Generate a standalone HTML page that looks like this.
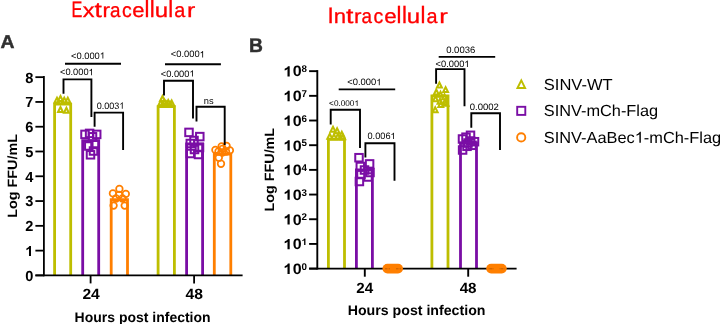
<!DOCTYPE html>
<html><head><meta charset="utf-8"><title>chart</title>
<style>
html,body{margin:0;padding:0;background:#fff;}
body{width:720px;height:324px;overflow:hidden;}
svg{display:block;will-change:transform;text-rendering:geometricPrecision;font-family:"Liberation Sans",sans-serif;}
</style></head><body>
<svg width="720" height="324" viewBox="0 0 720 324">
<rect width="720" height="324" fill="#fff"/>
<g fill="#ff0000" font-size="20.0" stroke="#ff0000" stroke-width="0.3">
<text transform="translate(71.57,16.70) scale(0.8118,1.1192)">E</text>
<text transform="translate(82.72,16.70) scale(1.1740,1.0038)">x</text>
<text transform="translate(94.60,16.63) scale(1.3281,1.0550)">t</text>
<text transform="translate(102.62,16.70) scale(1.1200,1.0037)">r</text>
<text transform="translate(110.11,16.70) scale(0.9436,1.0128)">a</text>
<text transform="translate(122.08,16.70) scale(0.9722,1.0128)">c</text>
<text transform="translate(132.23,16.70) scale(1.1011,1.0128)">e</text>
<text transform="translate(144.52,16.70) scale(1.1080,1.1793)">l</text>
<text transform="translate(149.82,16.70) scale(1.1080,1.1793)">l</text>
<text transform="translate(154.64,16.70) scale(1.2000,1.0037)">u</text>
<text transform="translate(168.32,16.70) scale(1.1080,1.1793)">l</text>
<text transform="translate(174.27,16.70) scale(0.9922,1.0128)">a</text>
<text transform="translate(187.06,16.70) scale(1.2400,1.0037)">r</text>
</g>
<g fill="#ff0000" font-size="20.0" stroke="#ff0000" stroke-width="0.3">
<text transform="translate(327.44,22.90) scale(1.1170,1.1192)">I</text>
<text transform="translate(333.64,22.90) scale(1.1059,1.0084)">n</text>
<text transform="translate(345.90,22.83) scale(1.3281,1.0550)">t</text>
<text transform="translate(354.02,22.90) scale(1.1200,1.0037)">r</text>
<text transform="translate(361.51,22.90) scale(0.9436,1.0128)">a</text>
<text transform="translate(373.48,22.90) scale(0.9722,1.0128)">c</text>
<text transform="translate(384.16,22.90) scale(1.1170,1.0128)">e</text>
<text transform="translate(396.52,22.90) scale(1.1080,1.1793)">l</text>
<text transform="translate(401.92,22.90) scale(1.1080,1.1793)">l</text>
<text transform="translate(406.84,22.90) scale(1.2000,1.0037)">u</text>
<text transform="translate(420.52,22.90) scale(1.1080,1.1793)">l</text>
<text transform="translate(426.57,22.90) scale(0.9922,1.0128)">a</text>
<text transform="translate(439.31,22.90) scale(1.2800,1.0037)">r</text>
</g>
<text x="0.4" y="48.3" font-size="18.5" font-weight="bold" fill="#303030" text-anchor="start" textLength="14.0" lengthAdjust="spacingAndGlyphs" stroke="#303030" stroke-width="0.45">A</text>
<text x="249.0" y="51.5" font-size="19.8" font-weight="bold" fill="#303030" text-anchor="start" textLength="13.9" lengthAdjust="spacingAndGlyphs" stroke="#303030" stroke-width="0.45">B</text>
<path d="M54.6 275.4V104.1H70.7V275.4" stroke="#bebe00" stroke-width="2.8" fill="none" stroke-linejoin="miter"/>
<path d="M82.7 275.4V140.6H98.7V275.4" stroke="#7a0ea5" stroke-width="2.8" fill="none" stroke-linejoin="miter"/>
<path d="M111.2 275.4V199.7H127.5V275.4" stroke="#ff7f00" stroke-width="2.8" fill="none" stroke-linejoin="miter"/>
<path d="M158.1 275.4V106.7H174.4V275.4" stroke="#bebe00" stroke-width="2.8" fill="none" stroke-linejoin="miter"/>
<path d="M186.6 275.4V144H202.6V275.4" stroke="#7a0ea5" stroke-width="2.8" fill="none" stroke-linejoin="miter"/>
<path d="M214.3 275.4V154H230.8V275.4" stroke="#ff7f00" stroke-width="2.8" fill="none" stroke-linejoin="miter"/>
<line x1="43.9" y1="76.1" x2="43.9" y2="276.29999999999995" stroke="#000" stroke-width="1.8" stroke-linecap="butt"/>
<line x1="35.4" y1="275.4" x2="242.6" y2="275.4" stroke="#000" stroke-width="1.8" stroke-linecap="butt"/>
<line x1="35.4" y1="275.4" x2="43.9" y2="275.4" stroke="#000" stroke-width="1.8" stroke-linecap="butt"/>
<text x="33.3" y="280.79999999999995" font-size="14.6" font-weight="bold" fill="#000" text-anchor="end" >0</text>
<line x1="35.4" y1="250.61999999999998" x2="43.9" y2="250.61999999999998" stroke="#000" stroke-width="1.8" stroke-linecap="butt"/>
<path transform="translate(25.25,256.02) scale(0.01460,0.01399)" d="M393 0H256V-516Q181 -446 79 -412V-536Q133 -554 196 -603Q259 -652 282 -718H393Z" fill="#000"/>
<line x1="35.4" y1="225.83999999999997" x2="43.9" y2="225.83999999999997" stroke="#000" stroke-width="1.8" stroke-linecap="butt"/>
<text x="33.3" y="231.23999999999998" font-size="14.6" font-weight="bold" fill="#000" text-anchor="end" >2</text>
<line x1="35.4" y1="201.05999999999997" x2="43.9" y2="201.05999999999997" stroke="#000" stroke-width="1.8" stroke-linecap="butt"/>
<text x="33.3" y="206.45999999999998" font-size="14.6" font-weight="bold" fill="#000" text-anchor="end" >3</text>
<line x1="35.4" y1="176.27999999999997" x2="43.9" y2="176.27999999999997" stroke="#000" stroke-width="1.8" stroke-linecap="butt"/>
<text x="33.3" y="181.67999999999998" font-size="14.6" font-weight="bold" fill="#000" text-anchor="end" >4</text>
<line x1="35.4" y1="151.49999999999997" x2="43.9" y2="151.49999999999997" stroke="#000" stroke-width="1.8" stroke-linecap="butt"/>
<text x="33.3" y="156.89999999999998" font-size="14.6" font-weight="bold" fill="#000" text-anchor="end" >5</text>
<line x1="35.4" y1="126.71999999999997" x2="43.9" y2="126.71999999999997" stroke="#000" stroke-width="1.8" stroke-linecap="butt"/>
<text x="33.3" y="132.11999999999998" font-size="14.6" font-weight="bold" fill="#000" text-anchor="end" >6</text>
<line x1="35.4" y1="101.93999999999997" x2="43.9" y2="101.93999999999997" stroke="#000" stroke-width="1.8" stroke-linecap="butt"/>
<text x="33.3" y="107.33999999999997" font-size="14.6" font-weight="bold" fill="#000" text-anchor="end" >7</text>
<line x1="35.4" y1="77.15999999999997" x2="43.9" y2="77.15999999999997" stroke="#000" stroke-width="1.8" stroke-linecap="butt"/>
<text x="33.3" y="82.55999999999997" font-size="14.6" font-weight="bold" fill="#000" text-anchor="end" >8</text>
<line x1="90.6" y1="275.4" x2="90.6" y2="283.4" stroke="#000" stroke-width="1.8" stroke-linecap="butt"/>
<line x1="194.1" y1="275.4" x2="194.1" y2="283.4" stroke="#000" stroke-width="1.8" stroke-linecap="butt"/>
<text x="91.1" y="299.4" font-size="14.8" font-weight="bold" fill="#000" text-anchor="middle" textLength="17.4" lengthAdjust="spacingAndGlyphs" >24</text>
<text x="194.3" y="299.4" font-size="14.8" font-weight="bold" fill="#000" text-anchor="middle" textLength="17.4" lengthAdjust="spacingAndGlyphs" >48</text>
<text x="74.6" y="321.5" font-size="14" font-weight="bold" fill="#000" text-anchor="start" textLength="136" lengthAdjust="spacingAndGlyphs" >Hours post infection</text>
<text transform="translate(17.4,217.7) rotate(-90)" font-size="13.5" font-weight="bold" textLength="83.6" lengthAdjust="spacingAndGlyphs">Log FFU/mL</text>
<path d="M54.55 102.54L57.00 97.64L59.45 102.54Z" stroke="#bebe00" stroke-width="2.0" fill="none" stroke-linejoin="miter"/>
<path d="M58.05 100.94L60.50 96.04L62.95 100.94Z" stroke="#bebe00" stroke-width="2.0" fill="none" stroke-linejoin="miter"/>
<path d="M61.80 102.54L64.25 97.64L66.70 102.54Z" stroke="#bebe00" stroke-width="2.0" fill="none" stroke-linejoin="miter"/>
<path d="M65.35 102.54L67.80 97.64L70.25 102.54Z" stroke="#bebe00" stroke-width="2.0" fill="none" stroke-linejoin="miter"/>
<path d="M58.05 111.94L60.50 107.04L62.95 111.94Z" stroke="#bebe00" stroke-width="2.0" fill="none" stroke-linejoin="miter"/>
<path d="M63.95 112.74L66.40 107.84L68.85 112.74Z" stroke="#bebe00" stroke-width="2.0" fill="none" stroke-linejoin="miter"/>
<rect x="81.25" y="130.65" width="7.5" height="7.5" stroke="#7a0ea5" stroke-width="2.0" fill="none"/>
<rect x="85.85" y="129.65" width="7.5" height="7.5" stroke="#7a0ea5" stroke-width="2.0" fill="none"/>
<rect x="92.95" y="130.65" width="7.5" height="7.5" stroke="#7a0ea5" stroke-width="2.0" fill="none"/>
<rect x="88.75" y="133.05" width="7.5" height="7.5" stroke="#7a0ea5" stroke-width="2.0" fill="none"/>
<rect x="85.05" y="142.25" width="7.5" height="7.5" stroke="#7a0ea5" stroke-width="2.0" fill="none"/>
<rect x="91.25" y="140.75" width="7.5" height="7.5" stroke="#7a0ea5" stroke-width="2.0" fill="none"/>
<rect x="86.75" y="151.05" width="7.5" height="7.5" stroke="#7a0ea5" stroke-width="2.0" fill="none"/>
<rect x="89.75" y="147.25" width="7.5" height="7.5" stroke="#7a0ea5" stroke-width="2.0" fill="none"/>
<circle cx="119.40" cy="188.90" r="3.3" stroke="#ff7f00" stroke-width="1.7" fill="none"/>
<circle cx="112.90" cy="193.40" r="3.3" stroke="#ff7f00" stroke-width="1.7" fill="none"/>
<circle cx="125.80" cy="193.90" r="3.3" stroke="#ff7f00" stroke-width="1.7" fill="none"/>
<circle cx="119.10" cy="195.00" r="3.3" stroke="#ff7f00" stroke-width="1.7" fill="none"/>
<circle cx="113.60" cy="205.60" r="3.3" stroke="#ff7f00" stroke-width="1.7" fill="none"/>
<circle cx="124.70" cy="205.60" r="3.3" stroke="#ff7f00" stroke-width="1.7" fill="none"/>
<circle cx="116.00" cy="198.50" r="3.3" stroke="#ff7f00" stroke-width="1.7" fill="none"/>
<circle cx="122.50" cy="198.50" r="3.3" stroke="#ff7f00" stroke-width="1.7" fill="none"/>
<path d="M160.05 100.94L162.50 96.04L164.95 100.94Z" stroke="#bebe00" stroke-width="2.0" fill="none" stroke-linejoin="miter"/>
<path d="M158.45 105.14L160.90 100.24L163.35 105.14Z" stroke="#bebe00" stroke-width="2.0" fill="none" stroke-linejoin="miter"/>
<path d="M162.15 104.64L164.60 99.74L167.05 104.64Z" stroke="#bebe00" stroke-width="2.0" fill="none" stroke-linejoin="miter"/>
<path d="M165.75 104.94L168.20 100.04L170.65 104.94Z" stroke="#bebe00" stroke-width="2.0" fill="none" stroke-linejoin="miter"/>
<path d="M169.25 105.44L171.70 100.54L174.15 105.44Z" stroke="#bebe00" stroke-width="2.0" fill="none" stroke-linejoin="miter"/>
<path d="M164.05 106.64L166.50 101.74L168.95 106.64Z" stroke="#bebe00" stroke-width="2.0" fill="none" stroke-linejoin="miter"/>
<path d="M160.55 106.14L163.00 101.24L165.45 106.14Z" stroke="#bebe00" stroke-width="2.0" fill="none" stroke-linejoin="miter"/>
<path d="M167.55 106.54L170.00 101.64L172.45 106.54Z" stroke="#bebe00" stroke-width="2.0" fill="none" stroke-linejoin="miter"/>
<rect x="185.25" y="128.65" width="7.5" height="7.5" stroke="#7a0ea5" stroke-width="2.0" fill="none"/>
<rect x="196.05" y="132.85" width="7.5" height="7.5" stroke="#7a0ea5" stroke-width="2.0" fill="none"/>
<rect x="186.55" y="139.75" width="7.5" height="7.5" stroke="#7a0ea5" stroke-width="2.0" fill="none"/>
<rect x="195.75" y="143.75" width="7.5" height="7.5" stroke="#7a0ea5" stroke-width="2.0" fill="none"/>
<rect x="186.55" y="149.75" width="7.5" height="7.5" stroke="#7a0ea5" stroke-width="2.0" fill="none"/>
<rect x="194.75" y="150.75" width="7.5" height="7.5" stroke="#7a0ea5" stroke-width="2.0" fill="none"/>
<rect x="190.25" y="136.75" width="7.5" height="7.5" stroke="#7a0ea5" stroke-width="2.0" fill="none"/>
<rect x="190.75" y="145.75" width="7.5" height="7.5" stroke="#7a0ea5" stroke-width="2.0" fill="none"/>
<circle cx="221.60" cy="146.50" r="3.3" stroke="#ff7f00" stroke-width="1.7" fill="none"/>
<circle cx="226.60" cy="146.00" r="3.3" stroke="#ff7f00" stroke-width="1.7" fill="none"/>
<circle cx="215.40" cy="149.90" r="3.3" stroke="#ff7f00" stroke-width="1.7" fill="none"/>
<circle cx="229.90" cy="150.40" r="3.3" stroke="#ff7f00" stroke-width="1.7" fill="none"/>
<circle cx="222.70" cy="148.80" r="3.3" stroke="#ff7f00" stroke-width="1.7" fill="none"/>
<circle cx="221.00" cy="163.80" r="3.3" stroke="#ff7f00" stroke-width="1.7" fill="none"/>
<circle cx="218.80" cy="157.70" r="3.3" stroke="#ff7f00" stroke-width="1.7" fill="none"/>
<circle cx="218.50" cy="151.50" r="3.3" stroke="#ff7f00" stroke-width="1.7" fill="none"/>
<circle cx="226.00" cy="151.50" r="3.3" stroke="#ff7f00" stroke-width="1.7" fill="none"/>
<circle cx="222.30" cy="152.50" r="3.3" stroke="#ff7f00" stroke-width="1.7" fill="none"/>
<line x1="65" y1="63.7" x2="121" y2="63.7" stroke="#000" stroke-width="1.9" stroke-linecap="butt"/>
<text x="71.0" y="58.6" font-size="9.3" font-weight="normal" fill="#000" text-anchor="start" textLength="28.81" lengthAdjust="spacingAndGlyphs" >&lt;0.000</text>
<path transform="translate(99.81,58.60) scale(0.00933,0.00895)" d="M373 0H285V-560Q253 -530 202 -500Q151 -470 110 -455V-540Q183 -574 238 -623Q293 -672 316 -719H373Z" fill="#000"/>
<text x="60.0" y="75.2" font-size="9.3" font-weight="normal" fill="#000" text-anchor="start" textLength="28.56" lengthAdjust="spacingAndGlyphs" >&lt;0.000</text>
<path transform="translate(88.56,75.20) scale(0.00925,0.00895)" d="M373 0H285V-560Q253 -530 202 -500Q151 -470 110 -455V-540Q183 -574 238 -623Q293 -672 316 -719H373Z" fill="#000"/>
<path d="M63.5 93.7V79.4H91.4V116.9" stroke="#000" stroke-width="1.9" fill="none" stroke-linejoin="miter"/>
<text x="96.7" y="108.8" font-size="9.3" font-weight="normal" fill="#000" text-anchor="start" textLength="22.58" lengthAdjust="spacingAndGlyphs" >0.003</text>
<path transform="translate(119.28,108.80) scale(0.00902,0.00895)" d="M373 0H285V-560Q253 -530 202 -500Q151 -470 110 -455V-540Q183 -574 238 -623Q293 -672 316 -719H373Z" fill="#000"/>
<path d="M94.6 126.7V112.6H123.1V150" stroke="#000" stroke-width="1.9" fill="none" stroke-linejoin="miter"/>
<line x1="165" y1="64.3" x2="220.9" y2="64.3" stroke="#000" stroke-width="1.9" stroke-linecap="butt"/>
<text x="170.8" y="57.4" font-size="9.3" font-weight="normal" fill="#000" text-anchor="start" textLength="28.81" lengthAdjust="spacingAndGlyphs" >&lt;0.000</text>
<path transform="translate(199.61,57.40) scale(0.00933,0.00895)" d="M373 0H285V-560Q253 -530 202 -500Q151 -470 110 -455V-540Q183 -574 238 -623Q293 -672 316 -719H373Z" fill="#000"/>
<text x="160.8" y="76.6" font-size="9.3" font-weight="normal" fill="#000" text-anchor="start" textLength="28.64" lengthAdjust="spacingAndGlyphs" >&lt;0.000</text>
<path transform="translate(189.44,76.60) scale(0.00928,0.00895)" d="M373 0H285V-560Q253 -530 202 -500Q151 -470 110 -455V-540Q183 -574 238 -623Q293 -672 316 -719H373Z" fill="#000"/>
<path d="M164 95.6V80.7H193V118.6" stroke="#000" stroke-width="1.9" fill="none" stroke-linejoin="miter"/>
<text x="203.75" y="103.75" font-size="9.3" font-weight="normal" fill="#000" text-anchor="start" >ns</text>
<path d="M196.5 121.5V106.8H224.7V144.9" stroke="#000" stroke-width="1.9" fill="none" stroke-linejoin="miter"/>
<path d="M328.4 268.6V139.4H344.5V268.6" stroke="#bebe00" stroke-width="2.8" fill="none" stroke-linejoin="miter"/>
<path d="M356.4 268.6V170H372.4V268.6" stroke="#7a0ea5" stroke-width="2.8" fill="none" stroke-linejoin="miter"/>
<path d="M431.9 268.6V95.8H448.0V268.6" stroke="#bebe00" stroke-width="2.8" fill="none" stroke-linejoin="miter"/>
<path d="M460.5 268.6V143H476.5V268.6" stroke="#7a0ea5" stroke-width="2.8" fill="none" stroke-linejoin="miter"/>
<line x1="317.3" y1="70.1" x2="317.3" y2="269.5" stroke="#000" stroke-width="1.9" stroke-linecap="butt"/>
<line x1="309.1" y1="268.6" x2="516.6" y2="268.6" stroke="#000" stroke-width="1.9" stroke-linecap="butt"/>
<line x1="309.1" y1="268.6" x2="317.3" y2="268.6" stroke="#000" stroke-width="1.9" stroke-linecap="butt"/>
<path transform="translate(283.40,273.90) scale(0.01600,0.01437)" d="M393 0H256V-516Q181 -446 79 -412V-536Q133 -554 196 -603Q259 -652 282 -718H393Z" fill="#000"/>
<text x="292.8" y="273.90000000000003" font-size="15.0" font-weight="bold" fill="#000" text-anchor="start" textLength="8.9" lengthAdjust="spacingAndGlyphs" >0</text>
<text x="301.6" y="269.8" font-size="9.8" font-weight="bold" fill="#000" text-anchor="start" >0</text>
<line x1="309.1" y1="243.92000000000002" x2="317.3" y2="243.92000000000002" stroke="#000" stroke-width="1.9" stroke-linecap="butt"/>
<path transform="translate(283.40,249.22) scale(0.01600,0.01437)" d="M393 0H256V-516Q181 -446 79 -412V-536Q133 -554 196 -603Q259 -652 282 -718H393Z" fill="#000"/>
<text x="292.8" y="249.22000000000003" font-size="15.0" font-weight="bold" fill="#000" text-anchor="start" textLength="8.9" lengthAdjust="spacingAndGlyphs" >0</text>
<path transform="translate(301.60,245.12) scale(0.00980,0.00939)" d="M393 0H256V-516Q181 -446 79 -412V-536Q133 -554 196 -603Q259 -652 282 -718H393Z" fill="#000"/>
<line x1="309.1" y1="219.24" x2="317.3" y2="219.24" stroke="#000" stroke-width="1.9" stroke-linecap="butt"/>
<path transform="translate(283.40,224.54) scale(0.01600,0.01437)" d="M393 0H256V-516Q181 -446 79 -412V-536Q133 -554 196 -603Q259 -652 282 -718H393Z" fill="#000"/>
<text x="292.8" y="224.54000000000002" font-size="15.0" font-weight="bold" fill="#000" text-anchor="start" textLength="8.9" lengthAdjust="spacingAndGlyphs" >0</text>
<text x="301.6" y="220.44" font-size="9.8" font-weight="bold" fill="#000" text-anchor="start" >2</text>
<line x1="309.1" y1="194.56000000000003" x2="317.3" y2="194.56000000000003" stroke="#000" stroke-width="1.9" stroke-linecap="butt"/>
<path transform="translate(283.40,199.86) scale(0.01600,0.01437)" d="M393 0H256V-516Q181 -446 79 -412V-536Q133 -554 196 -603Q259 -652 282 -718H393Z" fill="#000"/>
<text x="292.8" y="199.86000000000004" font-size="15.0" font-weight="bold" fill="#000" text-anchor="start" textLength="8.9" lengthAdjust="spacingAndGlyphs" >0</text>
<text x="301.6" y="195.76000000000002" font-size="9.8" font-weight="bold" fill="#000" text-anchor="start" >3</text>
<line x1="309.1" y1="169.88000000000002" x2="317.3" y2="169.88000000000002" stroke="#000" stroke-width="1.9" stroke-linecap="butt"/>
<path transform="translate(283.40,175.18) scale(0.01600,0.01437)" d="M393 0H256V-516Q181 -446 79 -412V-536Q133 -554 196 -603Q259 -652 282 -718H393Z" fill="#000"/>
<text x="292.8" y="175.18000000000004" font-size="15.0" font-weight="bold" fill="#000" text-anchor="start" textLength="8.9" lengthAdjust="spacingAndGlyphs" >0</text>
<text x="301.6" y="171.08" font-size="9.8" font-weight="bold" fill="#000" text-anchor="start" >4</text>
<line x1="309.1" y1="145.20000000000002" x2="317.3" y2="145.20000000000002" stroke="#000" stroke-width="1.9" stroke-linecap="butt"/>
<path transform="translate(283.40,150.50) scale(0.01600,0.01437)" d="M393 0H256V-516Q181 -446 79 -412V-536Q133 -554 196 -603Q259 -652 282 -718H393Z" fill="#000"/>
<text x="292.8" y="150.50000000000003" font-size="15.0" font-weight="bold" fill="#000" text-anchor="start" textLength="8.9" lengthAdjust="spacingAndGlyphs" >0</text>
<text x="301.6" y="146.4" font-size="9.8" font-weight="bold" fill="#000" text-anchor="start" >5</text>
<line x1="309.1" y1="120.52000000000004" x2="317.3" y2="120.52000000000004" stroke="#000" stroke-width="1.9" stroke-linecap="butt"/>
<path transform="translate(283.40,125.82) scale(0.01600,0.01437)" d="M393 0H256V-516Q181 -446 79 -412V-536Q133 -554 196 -603Q259 -652 282 -718H393Z" fill="#000"/>
<text x="292.8" y="125.82000000000004" font-size="15.0" font-weight="bold" fill="#000" text-anchor="start" textLength="8.9" lengthAdjust="spacingAndGlyphs" >0</text>
<text x="301.6" y="121.72000000000004" font-size="9.8" font-weight="bold" fill="#000" text-anchor="start" >6</text>
<line x1="309.1" y1="95.84000000000003" x2="317.3" y2="95.84000000000003" stroke="#000" stroke-width="1.9" stroke-linecap="butt"/>
<path transform="translate(283.40,101.14) scale(0.01600,0.01437)" d="M393 0H256V-516Q181 -446 79 -412V-536Q133 -554 196 -603Q259 -652 282 -718H393Z" fill="#000"/>
<text x="292.8" y="101.14000000000003" font-size="15.0" font-weight="bold" fill="#000" text-anchor="start" textLength="8.9" lengthAdjust="spacingAndGlyphs" >0</text>
<text x="301.6" y="97.04000000000003" font-size="9.8" font-weight="bold" fill="#000" text-anchor="start" >7</text>
<line x1="309.1" y1="71.16000000000003" x2="317.3" y2="71.16000000000003" stroke="#000" stroke-width="1.9" stroke-linecap="butt"/>
<path transform="translate(283.40,76.46) scale(0.01600,0.01437)" d="M393 0H256V-516Q181 -446 79 -412V-536Q133 -554 196 -603Q259 -652 282 -718H393Z" fill="#000"/>
<text x="292.8" y="76.46000000000002" font-size="15.0" font-weight="bold" fill="#000" text-anchor="start" textLength="8.9" lengthAdjust="spacingAndGlyphs" >0</text>
<text x="301.6" y="72.36000000000003" font-size="9.8" font-weight="bold" fill="#000" text-anchor="start" >8</text>
<line x1="364.8" y1="268.6" x2="364.8" y2="276.7" stroke="#000" stroke-width="1.9" stroke-linecap="butt"/>
<line x1="468.2" y1="268.6" x2="468.2" y2="276.7" stroke="#000" stroke-width="1.9" stroke-linecap="butt"/>
<text x="364.7" y="293.1" font-size="14.8" font-weight="bold" fill="#000" text-anchor="middle" textLength="16.9" lengthAdjust="spacingAndGlyphs" >24</text>
<text x="468.1" y="293.1" font-size="14.8" font-weight="bold" fill="#000" text-anchor="middle" textLength="16.9" lengthAdjust="spacingAndGlyphs" >48</text>
<text x="347.7" y="314.7" font-size="14" font-weight="bold" fill="#000" text-anchor="start" textLength="137.8" lengthAdjust="spacingAndGlyphs" >Hours post infection</text>
<text transform="translate(273.6,211.4) rotate(-90)" font-size="13.5" font-weight="bold" textLength="83.5" lengthAdjust="spacingAndGlyphs">Log FFU/mL</text>
<rect x="382.5" y="263.70000000000005" width="20.5" height="9.8" rx="4.9" fill="#ff7f00"/>
<rect x="385.1" y="268.0" width="0.55" height="1.4" fill="#a04c00" opacity="0.8"/>
<rect x="386.4" y="268.0" width="0.55" height="1.4" fill="#a04c00" opacity="0.8"/>
<rect x="387.7" y="268.0" width="0.55" height="1.4" fill="#a04c00" opacity="0.8"/>
<rect x="389.0" y="268.0" width="0.55" height="1.4" fill="#a04c00" opacity="0.8"/>
<rect x="396.1" y="268.0" width="0.55" height="1.4" fill="#a04c00" opacity="0.8"/>
<rect x="397.4" y="268.0" width="0.55" height="1.4" fill="#a04c00" opacity="0.8"/>
<rect x="398.7" y="268.0" width="0.55" height="1.4" fill="#a04c00" opacity="0.8"/>
<rect x="400.0" y="268.0" width="0.55" height="1.4" fill="#a04c00" opacity="0.8"/>
<rect x="486.2" y="263.70000000000005" width="20.5" height="9.8" rx="4.9" fill="#ff7f00"/>
<rect x="488.8" y="268.0" width="0.55" height="1.4" fill="#a04c00" opacity="0.8"/>
<rect x="490.09999999999997" y="268.0" width="0.55" height="1.4" fill="#a04c00" opacity="0.8"/>
<rect x="491.4" y="268.0" width="0.55" height="1.4" fill="#a04c00" opacity="0.8"/>
<rect x="492.7" y="268.0" width="0.55" height="1.4" fill="#a04c00" opacity="0.8"/>
<rect x="499.8" y="268.0" width="0.55" height="1.4" fill="#a04c00" opacity="0.8"/>
<rect x="501.09999999999997" y="268.0" width="0.55" height="1.4" fill="#a04c00" opacity="0.8"/>
<rect x="502.4" y="268.0" width="0.55" height="1.4" fill="#a04c00" opacity="0.8"/>
<rect x="503.7" y="268.0" width="0.55" height="1.4" fill="#a04c00" opacity="0.8"/>
<path d="M330.55 131.64L333.00 126.74L335.45 131.64Z" stroke="#bebe00" stroke-width="2.0" fill="none" stroke-linejoin="miter"/>
<path d="M334.65 133.14L337.10 128.24L339.55 133.14Z" stroke="#bebe00" stroke-width="2.0" fill="none" stroke-linejoin="miter"/>
<path d="M339.35 136.64L341.80 131.74L344.25 136.64Z" stroke="#bebe00" stroke-width="2.0" fill="none" stroke-linejoin="miter"/>
<path d="M327.35 138.74L329.80 133.84L332.25 138.74Z" stroke="#bebe00" stroke-width="2.0" fill="none" stroke-linejoin="miter"/>
<path d="M331.55 139.14L334.00 134.24L336.45 139.14Z" stroke="#bebe00" stroke-width="2.0" fill="none" stroke-linejoin="miter"/>
<path d="M335.55 138.74L338.00 133.84L340.45 138.74Z" stroke="#bebe00" stroke-width="2.0" fill="none" stroke-linejoin="miter"/>
<path d="M340.25 139.14L342.70 134.24L345.15 139.14Z" stroke="#bebe00" stroke-width="2.0" fill="none" stroke-linejoin="miter"/>
<rect x="355.25" y="153.95" width="7.5" height="7.5" stroke="#7a0ea5" stroke-width="2.0" fill="none"/>
<rect x="365.85" y="160.15" width="7.5" height="7.5" stroke="#7a0ea5" stroke-width="2.0" fill="none"/>
<rect x="356.55" y="162.75" width="7.5" height="7.5" stroke="#7a0ea5" stroke-width="2.0" fill="none"/>
<rect x="366.25" y="168.75" width="7.5" height="7.5" stroke="#7a0ea5" stroke-width="2.0" fill="none"/>
<rect x="360.75" y="166.25" width="7.5" height="7.5" stroke="#7a0ea5" stroke-width="2.0" fill="none"/>
<rect x="357.25" y="170.75" width="7.5" height="7.5" stroke="#7a0ea5" stroke-width="2.0" fill="none"/>
<rect x="364.25" y="173.25" width="7.5" height="7.5" stroke="#7a0ea5" stroke-width="2.0" fill="none"/>
<rect x="355.65" y="177.75" width="7.5" height="7.5" stroke="#7a0ea5" stroke-width="2.0" fill="none"/>
<path d="M436.95 87.44L439.40 82.54L441.85 87.44Z" stroke="#bebe00" stroke-width="2.0" fill="none" stroke-linejoin="miter"/>
<path d="M443.15 92.04L445.60 87.14L448.05 92.04Z" stroke="#bebe00" stroke-width="2.0" fill="none" stroke-linejoin="miter"/>
<path d="M433.85 94.44L436.30 89.54L438.75 94.44Z" stroke="#bebe00" stroke-width="2.0" fill="none" stroke-linejoin="miter"/>
<path d="M438.05 96.64L440.50 91.74L442.95 96.64Z" stroke="#bebe00" stroke-width="2.0" fill="none" stroke-linejoin="miter"/>
<path d="M442.05 99.14L444.50 94.24L446.95 99.14Z" stroke="#bebe00" stroke-width="2.0" fill="none" stroke-linejoin="miter"/>
<path d="M433.05 101.14L435.50 96.24L437.95 101.14Z" stroke="#bebe00" stroke-width="2.0" fill="none" stroke-linejoin="miter"/>
<path d="M437.55 103.64L440.00 98.74L442.45 103.64Z" stroke="#bebe00" stroke-width="2.0" fill="none" stroke-linejoin="miter"/>
<path d="M442.55 104.14L445.00 99.24L447.45 104.14Z" stroke="#bebe00" stroke-width="2.0" fill="none" stroke-linejoin="miter"/>
<path d="M432.75 112.14L435.20 107.24L437.65 112.14Z" stroke="#bebe00" stroke-width="2.0" fill="none" stroke-linejoin="miter"/>
<path d="M443.55 105.64L446.00 100.74L448.45 105.64Z" stroke="#bebe00" stroke-width="2.0" fill="none" stroke-linejoin="miter"/>
<path d="M438.35 106.94L440.80 102.04L443.25 106.94Z" stroke="#bebe00" stroke-width="2.0" fill="none" stroke-linejoin="miter"/>
<rect x="466.75" y="131.55" width="7.5" height="7.5" stroke="#7a0ea5" stroke-width="2.0" fill="none"/>
<rect x="462.25" y="133.45" width="7.5" height="7.5" stroke="#7a0ea5" stroke-width="2.0" fill="none"/>
<rect x="458.75" y="135.25" width="7.5" height="7.5" stroke="#7a0ea5" stroke-width="2.0" fill="none"/>
<rect x="470.75" y="137.95" width="7.5" height="7.5" stroke="#7a0ea5" stroke-width="2.0" fill="none"/>
<rect x="464.25" y="139.25" width="7.5" height="7.5" stroke="#7a0ea5" stroke-width="2.0" fill="none"/>
<rect x="458.85" y="146.25" width="7.5" height="7.5" stroke="#7a0ea5" stroke-width="2.0" fill="none"/>
<rect x="466.75" y="137.25" width="7.5" height="7.5" stroke="#7a0ea5" stroke-width="2.0" fill="none"/>
<rect x="468.25" y="141.55" width="7.5" height="7.5" stroke="#7a0ea5" stroke-width="2.0" fill="none"/>
<rect x="463.25" y="142.55" width="7.5" height="7.5" stroke="#7a0ea5" stroke-width="2.0" fill="none"/>
<line x1="338.7" y1="89.4" x2="395.2" y2="89.4" stroke="#000" stroke-width="1.9" stroke-linecap="butt"/>
<text x="347.2" y="85.3" font-size="9.3" font-weight="normal" fill="#000" text-anchor="start" textLength="28.98" lengthAdjust="spacingAndGlyphs" >&lt;0.000</text>
<path transform="translate(376.18,85.30) scale(0.00939,0.00895)" d="M373 0H285V-560Q253 -530 202 -500Q151 -470 110 -455V-540Q183 -574 238 -623Q293 -672 316 -719H373Z" fill="#000"/>
<text x="329.1" y="106.0" font-size="8.3" font-weight="normal" fill="#000" text-anchor="start" textLength="25.34" lengthAdjust="spacingAndGlyphs" >&lt;0.000</text>
<path transform="translate(354.44,106.00) scale(0.00821,0.00798)" d="M373 0H285V-560Q253 -530 202 -500Q151 -470 110 -455V-540Q183 -574 238 -623Q293 -672 316 -719H373Z" fill="#000"/>
<path d="M330.7 124.5V109.8H360V148" stroke="#000" stroke-width="1.9" fill="none" stroke-linejoin="miter"/>
<text x="367.5" y="139.1" font-size="9.3" font-weight="normal" fill="#000" text-anchor="start" textLength="22.99" lengthAdjust="spacingAndGlyphs" >0.006</text>
<path transform="translate(390.49,139.10) scale(0.00919,0.00895)" d="M373 0H285V-560Q253 -530 202 -500Q151 -470 110 -455V-540Q183 -574 238 -623Q293 -672 316 -719H373Z" fill="#000"/>
<path d="M365.4 157.6V143.3H394.5V180.7" stroke="#000" stroke-width="1.9" fill="none" stroke-linejoin="miter"/>
<line x1="438.7" y1="56.9" x2="495.2" y2="56.9" stroke="#000" stroke-width="1.9" stroke-linecap="butt"/>
<text x="446.2" y="53.4" font-size="9.3" font-weight="normal" fill="#000" text-anchor="start" textLength="29.1" lengthAdjust="spacingAndGlyphs" >0.0036</text>
<text x="435.6" y="66.9" font-size="9.3" font-weight="normal" fill="#000" text-anchor="start" textLength="28.72" lengthAdjust="spacingAndGlyphs" >&lt;0.000</text>
<path transform="translate(464.32,66.90) scale(0.00931,0.00895)" d="M373 0H285V-560Q253 -530 202 -500Q151 -470 110 -455V-540Q183 -574 238 -623Q293 -672 316 -719H373Z" fill="#000"/>
<path d="M436.1 83.7V69.1H464.5V106.3" stroke="#000" stroke-width="1.9" fill="none" stroke-linejoin="miter"/>
<text x="469.8" y="109.5" font-size="9.3" font-weight="normal" fill="#000" text-anchor="start" textLength="29.1" lengthAdjust="spacingAndGlyphs" >0.0002</text>
<path d="M471.3 127.8V113.3H500V150" stroke="#000" stroke-width="1.9" fill="none" stroke-linejoin="miter"/>
<path d="M517.5 88L521.3 80.3L525.1 88Z" stroke="#bebe00" stroke-width="1.9" fill="none" stroke-linejoin="miter"/>
<rect x="517.2" y="106.8" width="8.1" height="8.1" stroke="#7a0ea5" stroke-width="1.9" fill="none"/>
<circle cx="521.2" cy="137.4" r="4.1" stroke="#ff7f00" stroke-width="1.9" fill="none"/>
<text x="543.8" y="89.6" font-size="16" font-weight="normal" fill="#000" text-anchor="start" textLength="68.9" lengthAdjust="spacingAndGlyphs" >SINV-WT</text>
<text x="543.8" y="116.3" font-size="16" font-weight="normal" fill="#000" text-anchor="start" textLength="114.3" lengthAdjust="spacingAndGlyphs" >SINV-mCh-Flag</text>
<text x="543.8" y="142.8" font-size="16" font-weight="normal" fill="#000" text-anchor="start" textLength="90.93" lengthAdjust="spacingAndGlyphs" >SINV-AaBec</text>
<path transform="translate(634.73,142.80) scale(0.01636,0.01539)" d="M373 0H285V-560Q253 -530 202 -500Q151 -470 110 -455V-540Q183 -574 238 -623Q293 -672 316 -719H373Z" fill="#000"/>
<text x="643.8346554781781" y="142.8" font-size="16" font-weight="normal" fill="#000" text-anchor="start" textLength="77.27" lengthAdjust="spacingAndGlyphs" >-mCh-Flag</text>
</svg>
</body></html>
